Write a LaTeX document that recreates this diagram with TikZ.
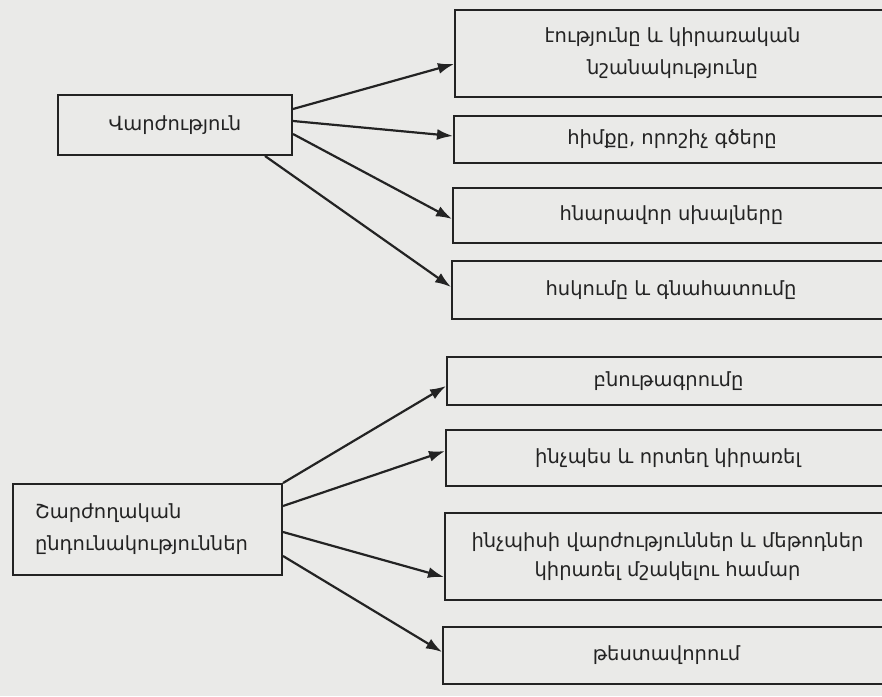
\documentclass[tikz,border=0pt]{standalone}
\usepackage{fontspec}
\setmainfont{DejaVu Sans}
\usetikzlibrary{arrows.meta}
\definecolor{bgpaper}{RGB}{234,234,232}
\definecolor{ink}{RGB}{35,35,35}
\tikzset{
  box/.style={draw=ink, line width=2pt, rectangle, inner sep=0pt, text=ink,
    font=\fontsize{19.5}{32}\selectfont, align=center},
  conn/.style={draw=ink, line width=2.2pt, -{Latex[length=16pt,width=11pt]}},
}
\begin{document}
\begin{tikzpicture}[x=1pt,y=-1pt]
\fill[bgpaper] (0,0) rectangle (882,696);
\useasboundingbox (0,0) rectangle (882,696);
\clip (0,0) rectangle (882,696);
% left boxes
\node[box, minimum width=234pt, minimum height=60pt] (L1) at (175,125) {Վարժություն};
\node[box, minimum width=269pt, minimum height=91pt, align=left, text width=225pt] (L2) at (147.5,529.5) {Շարժողական\\ընդունակություններ};
% right boxes
\node[box, minimum width=435pt, minimum height=87pt] (R1) at (672.5,53.5) {էությունը և կիրառական\\նշանակությունը};
\node[box, minimum width=436pt, minimum height=47pt] (R2) at (672,139.5) {հիմքը, որոշիչ գծերը};
\node[box, minimum width=437pt, minimum height=55pt] (R3) at (671.5,215.5) {հնարավոր սխալները};
\node[box, minimum width=438pt, minimum height=58pt] (R4) at (671,290) {հսկումը և գնահատումը};
\node[box, minimum width=443pt, minimum height=48pt] (R5) at (668.5,381) {բնութագրումը};
\node[box, minimum width=444pt, minimum height=56pt] (R6) at (668,458) {ինչպես և որտեղ կիրառել};
\node[box, minimum width=445pt, minimum height=87pt, font=\fontsize{19.5}{29}\selectfont] (R7) at (667.5,556.5) {ինչպիսի վարժություններ և մեթոդներ\\կիրառել մշակելու համար};
\node[box, minimum width=447pt, minimum height=57pt] (R8) at (666.5,655.5) {թեստավորում};
% connectors
\draw[conn] ([yshift=-15pt]L1.north east) -- ([yshift=-55pt]R1.north west);
\draw[conn] ([yshift=-27pt]L1.north east) -- ([yshift=-21pt]R2.north west);
\draw[conn] ([yshift=-40pt]L1.north east) -- ([yshift=-32pt]R3.north west);
\draw[conn] ([xshift=90pt]L1.south) -- ([yshift=-27pt]R4.north west);
\draw[conn] (L2.north east) -- ([yshift=-30pt]R5.north west);
\draw[conn] ([yshift=-23pt]L2.north east) -- ([yshift=-22pt]R6.north west);
\draw[conn] ([yshift=-49pt]L2.north east) -- ([yshift=-65pt]R7.north west);
\draw[conn] ([yshift=-73pt]L2.north east) -- ([yshift=-26pt]R8.north west);
\end{tikzpicture}
\end{document}
